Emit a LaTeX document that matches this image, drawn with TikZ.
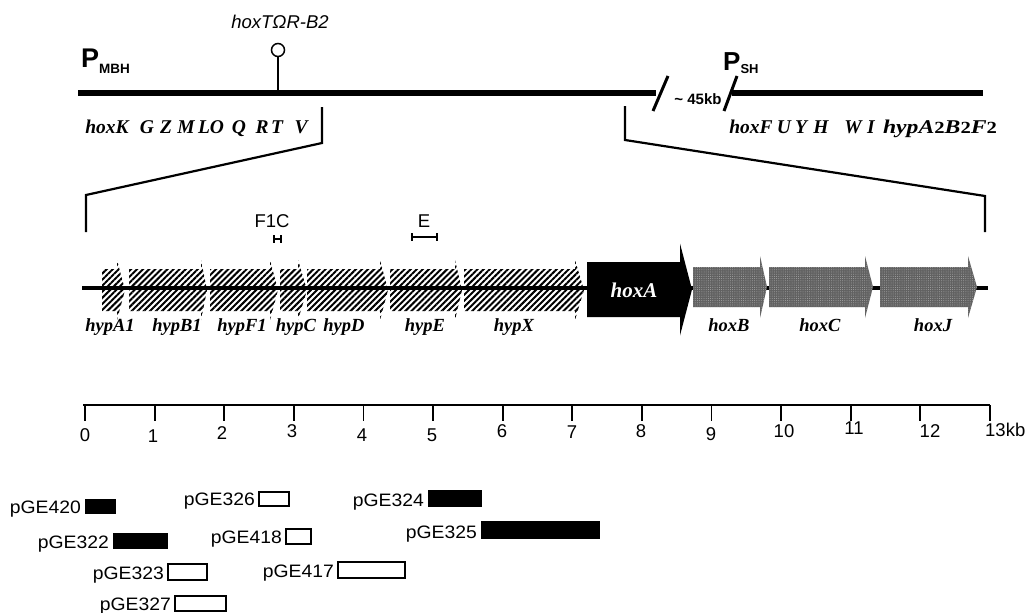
\documentclass[tikz,border=0pt]{standalone}
\usepackage{fontspec}
\usepackage{graphicx}
\setmainfont{Liberation Serif}
\setsansfont{Liberation Sans}
\usetikzlibrary{patterns.meta}
\newcommand\garrow[7]{%
  \path[#1] (#2,#7-#5) -- (#3,#7-#5) -- (#3,#7-#6) -- (#4,#7) -- (#3,#7+#6) -- (#3,#7+#5) -- (#2,#7+#5) -- cycle;}
\newcommand\pglab[1]{\resizebox{71pt}{\height}{#1}}
\tikzset{
  gtxt/.style={font=\fontsize{19.5}{22}\selectfont\bfseries\itshape, inner sep=0, anchor=base},
  rtxt/.style={font=\fontsize{18.5}{20}\selectfont\bfseries\itshape, inner sep=0, anchor=base},
  stxt/.style={font=\sffamily\fontsize{18.5}{20}\selectfont, inner sep=0, anchor=base},
  hatch/.style={pattern={Lines[angle=45,distance=4.3pt,line width=2pt]}},
  greyfill/.style={fill=black!62},
  greydots/.style={pattern={Dots[distance=2.2pt,radius=0.5pt]}, pattern color=black!35},
  thickline/.style={line width=6pt},
  bracket/.style={line width=2.2pt},
  blackbox/.style={fill=black},
  whitebox/.style={draw=black, line width=1.3pt, fill=white},
  plab/.style={font=\sffamily\fontsize{18}{20}\selectfont, inner sep=0, anchor=base east},
}
\begin{document}
\begin{tikzpicture}[x=1pt,y=-1pt]
\useasboundingbox (0,0) rectangle (1036,613);

% ---- top map ----
\coordinate (L0) at (78,93);
\coordinate (L1) at (656,93);
\coordinate (R0) at (732,93);
\coordinate (R1) at (983,93);
\draw[thickline] (L0) -- (L1);
\draw[thickline] (R0) -- (R1);
\draw[line width=3pt] (653,111) -- (668,76);
\draw[line width=3pt] (724,111) -- (737,76);
\node[font=\sffamily\bfseries\fontsize{15}{16}\selectfont, inner sep=0, anchor=base] (gap) at (698,104) {\textasciitilde{} 45kb};

\node[font=\sffamily\bfseries\fontsize{27}{28}\selectfont, inner sep=0, anchor=base west] (pmbh) at (81,67)
  {P\raisebox{-6pt}{\fontsize{13.5}{14}\selectfont MBH}};
\node[font=\sffamily\bfseries\fontsize{26}{28}\selectfont, inner sep=0, anchor=base west] (psh) at (723,70)
  {P\raisebox{-3pt}{\fontsize{13}{14}\selectfont SH}};

\coordinate (stem) at (278,90);
\node[draw, line width=1.5pt, fill=white, circle, minimum size=13pt, inner sep=0] (loll) at (278,50) {};
\draw[line width=1.5pt] (stem) -- (loll.south);
\node[font=\sffamily\itshape\fontsize{18.5}{20}\selectfont, inner sep=0, anchor=base] (term) at (280,28) {hoxTΩR-B2};

% genes under top line
\foreach \t/\x in {hoxK/107,G/147,Z/166,M/186,L/204,O/217,Q/239,R/262,T/277,V/301}
  \node[gtxt] at (\x,133) {\t};
\foreach \t/\x in {hoxF/751,U/784,Y/801,H/821,W/853,I/871}
  \node[gtxt] at (\x,133) {\t};
\node[gtxt] (hypr) at (940,133) {\resizebox{114pt}{\height}{hypA\textup{\fontsize{17}{18}\selectfont 2}B\textup{\fontsize{17}{18}\selectfont 2}F\textup{\fontsize{17}{18}\selectfont 2}}};

% brackets
\draw[bracket] (322,107) -- (322,143) -- (86,195) -- (86,232);
\draw[bracket] (625,106) -- (625,140) -- (985,196) -- (985,232);

% ---- gene row ----
\draw[line width=4pt] (82,288) -- (988,288);
\garrow{hatch}{102}{117}{125}{21}{30}{290}
\garrow{hatch}{129}{201}{207}{21}{30}{290}
\garrow{hatch}{210}{270}{278}{21}{30}{290}
\garrow{hatch}{280}{298}{307}{21}{30}{290}
\garrow{hatch}{307}{380}{388}{21}{30}{290}
\garrow{hatch}{390}{455}{462}{21}{30}{290}
\garrow{hatch}{464}{575}{584}{21}{30}{290}
\garrow{blackbox}{587}{680}{692}{27.5}{46}{289.5}
\foreach \a/\b/\c in {693/760/767,769/865/873,880/968/977}{
  \garrow{greyfill}{\a}{\b}{\c}{20}{31}{287}
  \garrow{greydots}{\a}{\b}{\c}{20}{31}{287}
}
\node[font=\fontsize{21}{22}\selectfont\bfseries\itshape, text=white, inner sep=0, anchor=base] (hoxA) at (634,297) {hoxA};

\foreach \t/\x in {hypA1/110,hypB1/177,hypF1/242,hypC/296,hypD/344,hypE/425,hypX/514,hoxB/729,hoxC/820,hoxJ/933}
  \node[rtxt] at (\x,331) {\t};

% markers F1C and E
\node[stxt] (f1c) at (272,227) {F1C};
\draw[line width=1.3pt] (274,239) -- (281,239);
\draw[line width=1.3pt] (274,235) -- (274,243);
\draw[line width=1.3pt] (281,235) -- (281,243);
\node[stxt] (e) at (424,227) {E};
\draw[line width=1.3pt] (412,237) -- (437,237);
\draw[line width=1.3pt] (412,233) -- (412,241);
\draw[line width=1.3pt] (437,233) -- (437,241);

% ---- scale ----
\draw[line width=1.3pt] (83,405) -- (990,405);
\foreach \i in {0,...,13}
  \draw[line width=1.8pt] ({85+\i*69.6},405) -- ({85+\i*69.6},421);
\foreach \t/\x/\y in {0/85/441,1/153/442,2/222/439,3/292/437,4/362/441,5/432/441,6/502/437,7/572/438,8/641/437,9/711/440,10/784/437,11/854/434,12/930/437}
  \node[stxt] at (\x,\y) {\t};
\node[stxt, anchor=base west] (kb) at (985,436) {13kb};

% ---- plasmids ----
\foreach \n/\xa/\ya/\xb/\yb/\s in {
  pGE420/85/499/116/514/blackbox,
  pGE326/259/492/289/506/whitebox,
  pGE324/428/490/482/507/blackbox,
  pGE322/113/533/168/549/blackbox,
  pGE418/286/529/311/544/whitebox,
  pGE325/481/521/600/539/blackbox,
  pGE323/168/564/207/580/whitebox,
  pGE417/338/562/405/578/whitebox,
  pGE327/175/596/226/611/whitebox}{
  \path[\s] (\xa,\ya) rectangle (\xb,\yb);
  \node[plab] at (\xa-4,\yb-0.5) {\pglab{\n}};
}
\end{tikzpicture}
\end{document}
